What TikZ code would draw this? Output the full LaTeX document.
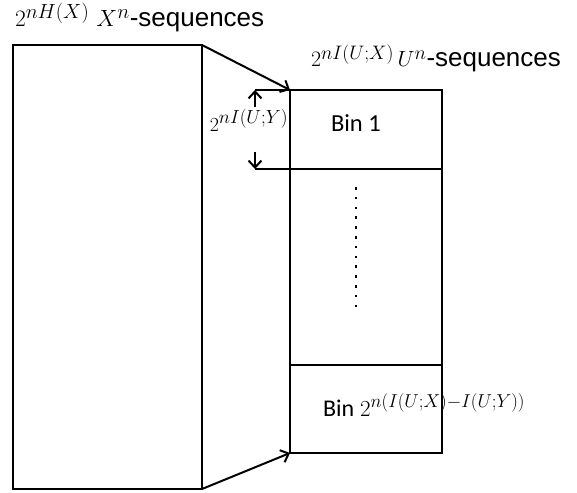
\RequirePackage{fix-cm}
\documentclass[tikz,border=0pt]{standalone}
\usepackage{fontspec}
\newfontfamily\arialf{Liberation Sans}
\newfontfamily\calibf{Carlito}
\usetikzlibrary{arrows.meta}
% large superscripts for the exponents
\DeclareMathSizes{20}{20}{19}{13}
\DeclareMathSizes{22}{22}{19.5}{14}
\DeclareMathSizes{23}{23}{18.7}{13}
\DeclareMathSizes{23.5}{23.5}{20.5}{14}
\newcommand\mathat[2]{{\fontsize{#1}{#1}\selectfont$#2$}}
\newcommand\seqword{{\fontsize{26}{30}\selectfont\arialf -sequences}}
\tikzset{
  sbarb/.tip={Straight Barb[length=7pt,width=13pt,line width=2pt]},
  boxnode/.style={draw, anchor=north west, inner sep=0pt, outer sep=0pt},
  arr/.style={-sbarb},
  lbl/.style={inner sep=0pt, anchor=base west},
}
\begin{document}
\begin{tikzpicture}[x=1pt, y=-1pt, line width=2pt]
\useasboundingbox (0,0) rectangle (577,492);

% the two sets of sequences
\node[boxnode, minimum width=189pt, minimum height=444pt] (lbox) at (13,45) {};
\node[boxnode, minimum width=152pt, minimum height=363pt] (rbox) at (290,90) {};

% bin boundaries
\coordinate (tick) at (255,90);
\coordinate (bin1) at (255,169);
\coordinate (binN) at (290,365);
\draw (tick) -- (rbox.north west);
\draw (bin1) -- (bin1 -| rbox.east);
\draw (binN) -- (binN -| rbox.east);

% mapping arrows
\draw[arr] (lbox.north east) -- (rbox.north west);
\draw[arr] (lbox.south east) -- (rbox.south west);

% bin size
\coordinate (upend) at (255,107);
\coordinate (downend) at (255,152);
\draw[arr] (upend) -- (tick);
\draw[arr] (downend) -- (bin1);
\node[inner sep=0pt, anchor=base east] (binsize) at (289,131) {\mathat{20}{2^{nI(U;Y)}}};

% titles
\node[lbl] (xtitle) at (14,27) {\mathat{23.5}{2^{nH(X)}\ X^n}\seqword};
\node[lbl] (utitle) at (310,67) {\mathat{22}{2^{nI(U;X)}\,U^n}\seqword};

% bin labels
\node[lbl] (firstbin) at (330,131) {\fontsize{24.5}{28}\selectfont\calibf Bin 1};
\node[lbl] (lastbin) at (322,416) {{\fontsize{24}{28}\selectfont\calibf Bin}\hspace{6pt}\mathat{23}{2^{n(I(U;X)-I(U;Y))}}};

% omitted bins
\draw[line width=2.6pt, dash pattern=on 2.6pt off 7.2pt] (356,187) -- (356,307);
\end{tikzpicture}
\end{document}
